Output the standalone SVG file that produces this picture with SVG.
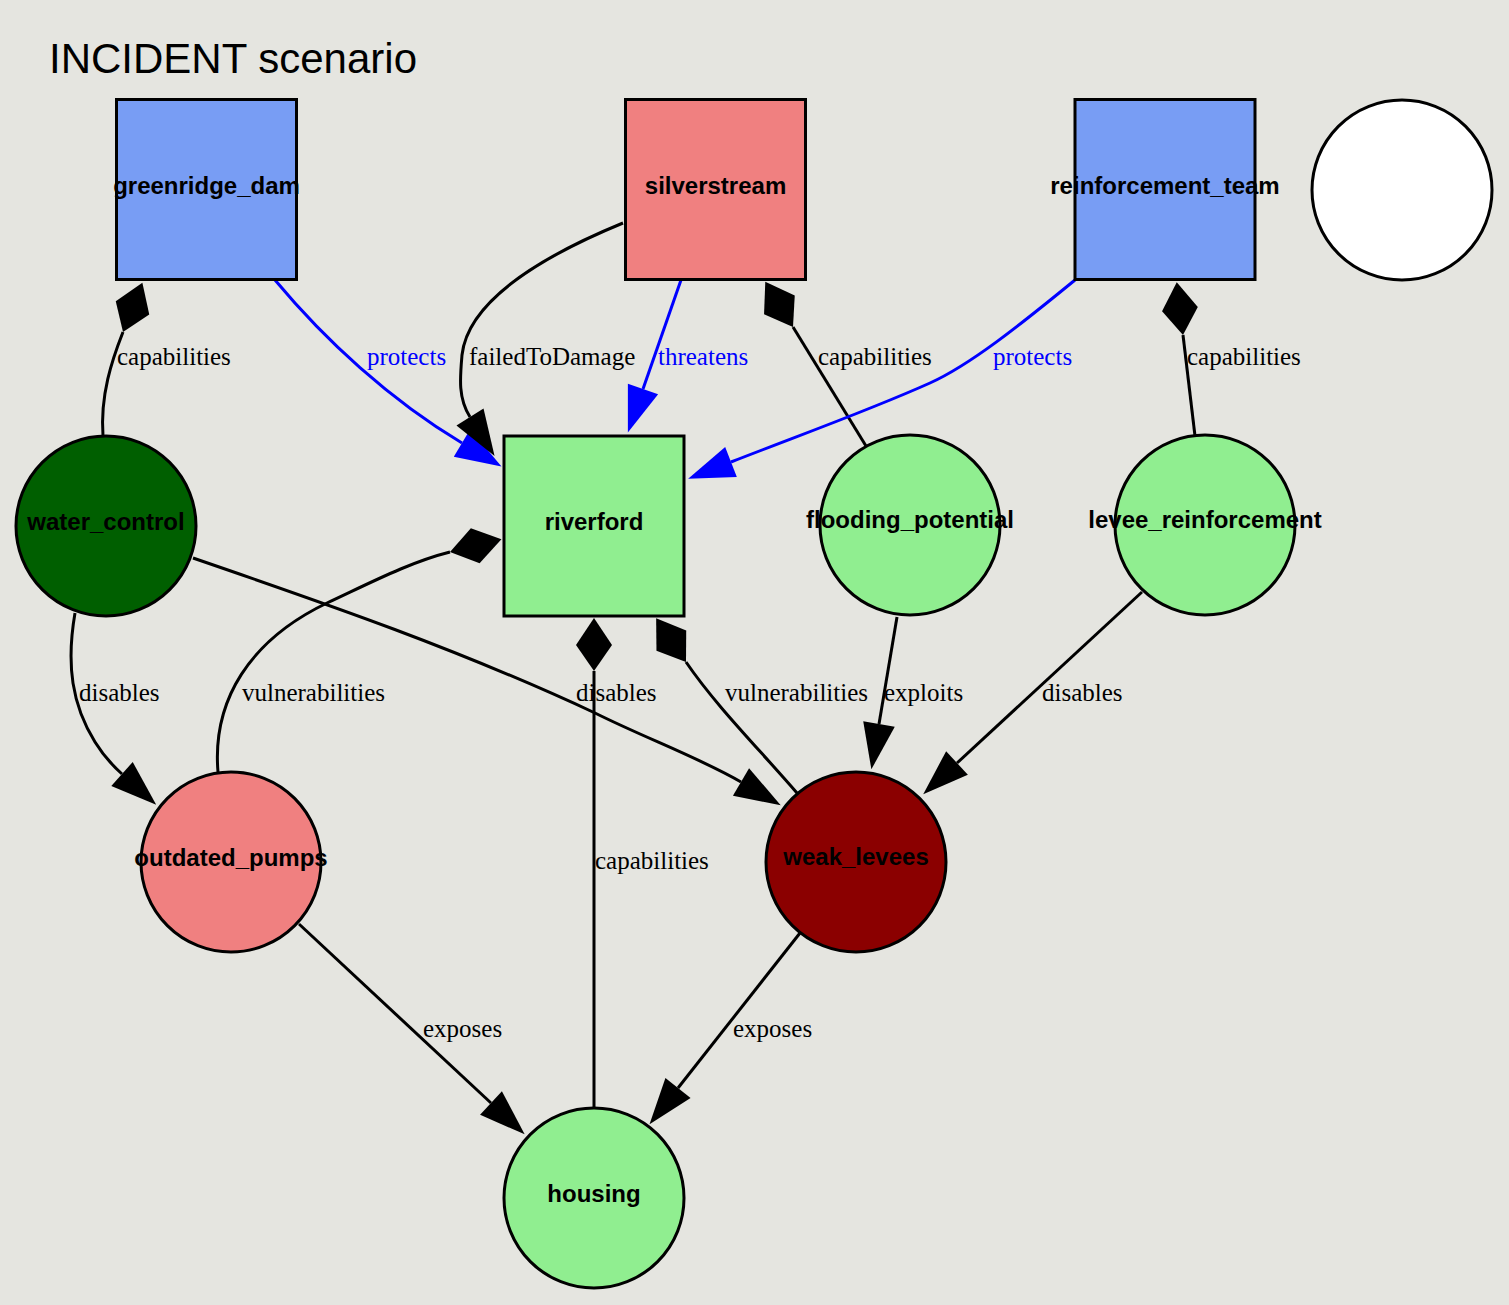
<svg xmlns="http://www.w3.org/2000/svg" width="1509" height="1305" viewBox="0 0 1509 1305">
<style>
.node{stroke:#000;stroke-width:3}
.nl{font-family:"Liberation Sans",Arial,sans-serif;font-weight:bold;font-size:24px;text-anchor:middle;fill:#000}
.e{fill:none;stroke:#000;stroke-width:3}
.eb{fill:none;stroke:#0000ff;stroke-width:3}
.el{font-family:"Liberation Serif","Times New Roman",serif;font-size:25px;fill:#000}
.elb{font-family:"Liberation Serif","Times New Roman",serif;font-size:25px;fill:#0000ff}
</style>
<defs>
<marker id="arr" viewBox="0 -18 48 36" refX="0" refY="0" markerWidth="48" markerHeight="36" markerUnits="userSpaceOnUse" orient="auto" overflow="visible"><path d="M0,-16 L46,0 L0,16 z" fill="#000"/></marker>
<marker id="arrb" viewBox="0 -18 48 36" refX="0" refY="0" markerWidth="48" markerHeight="36" markerUnits="userSpaceOnUse" orient="auto" overflow="visible"><path d="M0,-16 L46,0 L0,16 z" fill="#0000ff"/></marker>
<marker id="dia" viewBox="0 -19 54 38" refX="0" refY="0" markerWidth="54" markerHeight="38" markerUnits="userSpaceOnUse" orient="auto" overflow="visible"><path d="M0,0 L26,-18 L53,0 L26,18 z" fill="#000"/></marker>
</defs>
<rect x="0" y="0" width="1509" height="1305" fill="#e5e5e0"/>
<text x="49" y="73" font-family="'Liberation Sans',Arial,sans-serif" font-size="42" fill="#000">INCIDENT scenario</text>

<g id="edges">
<path class="e" d="M103,436 C100,395 112,360 123,332" marker-end="url(#dia)"/>
<path class="eb" d="M275,280 C325,340 390,400 462,443" marker-end="url(#arrb)"/>
<path class="e" d="M623,223 C545,255 468,300 462,355 C460,378 458,398 470,417" marker-end="url(#arr)"/>
<path class="eb" d="M681,280 L643,389" marker-end="url(#arrb)"/>
<path class="e" d="M866,446 L793,327" marker-end="url(#dia)"/>
<path class="eb" d="M1075,280 C1020,325 970,365 930,383 C870,410 800,435 731,462" marker-end="url(#arrb)"/>
<path class="e" d="M1195,436 L1183,335" marker-end="url(#dia)"/>
<path class="e" d="M218,772 C212,700 250,640 327,603 C370,583 410,562 450,552" marker-end="url(#dia)"/>
<path class="e" d="M75,613 C66,665 72,705 95,742 C103,755 112,765 122,774" marker-end="url(#arr)"/>
<path class="e" d="M193,558 C330,605 460,650 595,713 C645,738 700,758 741,782" marker-end="url(#arr)"/>
<path class="e" d="M594,1108 L594,671" marker-end="url(#dia)"/>
<path class="e" d="M797,793 C760,750 716,706 686,662" marker-end="url(#dia)"/>
<path class="e" d="M897,617 L879,724" marker-end="url(#arr)"/>
<path class="e" d="M1142,592 L957,763" marker-end="url(#arr)"/>
<path class="e" d="M299,924 L491,1103" marker-end="url(#arr)"/>
<path class="e" d="M800,933 L678,1088" marker-end="url(#arr)"/>
<text class="el" x="117" y="365">capabilities</text>
<text class="elb" x="367" y="365">protects</text>
<text class="el" x="469" y="365">failedToDamage</text>
<text class="elb" x="658" y="365">threatens</text>
<text class="el" x="818" y="365">capabilities</text>
<text class="elb" x="993" y="365">protects</text>
<text class="el" x="1187" y="365">capabilities</text>
<text class="el" x="79" y="701">disables</text>
<text class="el" x="242" y="701">vulnerabilities</text>
<text class="el" x="576" y="701">disables</text>
<text class="el" x="725" y="701">vulnerabilities</text>
<text class="el" x="884" y="701">exploits</text>
<text class="el" x="1042" y="701">disables</text>
<text class="el" x="595" y="869">capabilities</text>
<text class="el" x="423" y="1037">exposes</text>
<text class="el" x="733" y="1037">exposes</text>
</g>

<g id="greenridge_dam"><rect class="node" x="116.5" y="99.5" width="180" height="180" fill="#789df4"/><text class="nl" x="206.5" y="194">greenridge_dam</text></g>
<g id="silverstream"><rect class="node" x="625.5" y="99.5" width="180" height="180" fill="#f08080"/><text class="nl" x="715.5" y="194">silverstream</text></g>
<g id="reinforcement_team"><rect class="node" x="1075" y="99.5" width="180" height="180" fill="#789df4"/><text class="nl" x="1165" y="194">reinforcement_team</text></g>
<g id="unnamed"><circle class="node" cx="1402" cy="190" r="90" fill="#ffffff"/></g>
<g id="riverford"><rect class="node" x="504" y="436" width="180" height="180" fill="#90ee90"/><text class="nl" x="594" y="530">riverford</text></g>
<g id="water_control"><circle class="node" cx="106" cy="526" r="90" fill="#005f00"/><text class="nl" x="106" y="530">water_control</text></g>
<g id="flooding_potential"><circle class="node" cx="910" cy="525" r="90" fill="#90ee90"/><text class="nl" x="910" y="528">flooding_potential</text></g>
<g id="levee_reinforcement"><circle class="node" cx="1205" cy="525" r="90" fill="#90ee90"/><text class="nl" x="1205" y="528">levee_reinforcement</text></g>
<g id="outdated_pumps"><circle class="node" cx="231" cy="862" r="90" fill="#f08080"/><text class="nl" x="231" y="866">outdated_pumps</text></g>
<g id="weak_levees"><circle class="node" cx="856" cy="862" r="90" fill="#8b0000"/><text class="nl" x="856" y="865">weak_levees</text></g>
<g id="housing"><circle class="node" cx="594" cy="1198" r="90" fill="#90ee90"/><text class="nl" x="594" y="1202">housing</text></g>
</svg>
